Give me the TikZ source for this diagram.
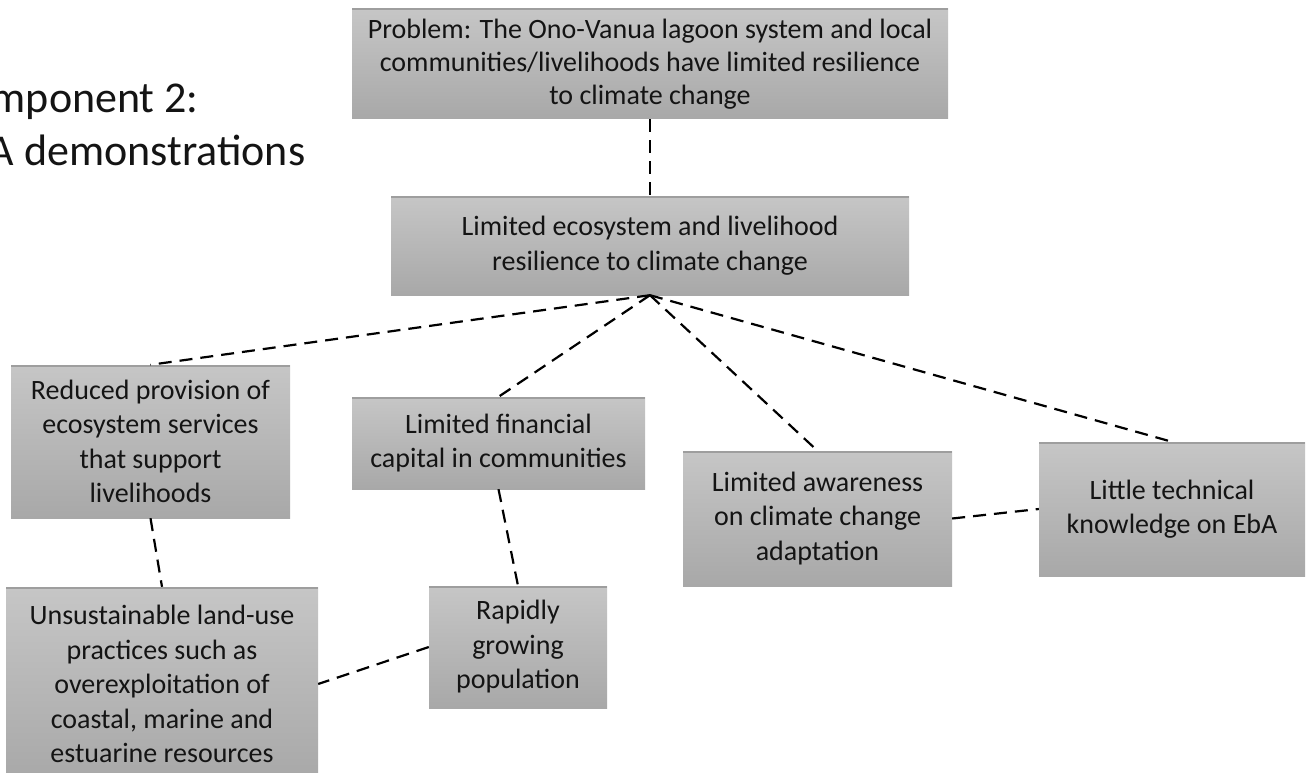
\documentclass[tikz,border=0pt]{standalone}
\usepackage{fontspec}
\setmainfont{Carlito}
\definecolor{boxtop}{RGB}{198,198,198}
\definecolor{boxbot}{RGB}{168,168,168}
\definecolor{boxedge}{RGB}{158,158,158}
\definecolor{inkc}{RGB}{20,20,20}
\tikzset{
  box/.style={rectangle, top color=boxtop, bottom color=boxbot, draw=none,
    inner sep=0pt, align=center, text=inkc,
    font=\fontsize{28}{34.5}\selectfont,
    path picture={\draw[boxedge, line width=3pt]
      (path picture bounding box.north west) -- (path picture bounding box.north east);}},
  link/.style={draw=black, line width=2.2pt, dash pattern=on 13pt off 8pt},
  heading/.style={anchor=base west, inner sep=0pt, text=inkc,
    font=\fontsize{44}{52}\selectfont}
}
\begin{document}
\begin{tikzpicture}[x=1pt, y=-1pt]
\useasboundingbox (0,0) rectangle (1306,773);
\clip (0,0) rectangle (1306,773);
\fill[white] (0,0) rectangle (1306,773);

% heading
\node[heading] (title1) at (-56,113) {Component 2:};
\node[heading] (title2) at (-56,165) {EbA demonstrations};

% problem statement and core effect
\node[box, minimum width=596pt, minimum height=110pt,
  font=\fontsize{28}{33}\selectfont] (problem) at (650,64)
  {Problem: The Ono-Vanua lagoon system and local\\
   communities/livelihoods have limited resilience\\
   to climate change};
\node[box, minimum width=518pt, minimum height=99pt] (core) at (650,245.5)
  {Limited ecosystem and livelihood\\resilience to climate change};

% causes
\node[box, minimum width=279pt, minimum height=153pt] (services) at (150.5,441.5)
  {Reduced provision of\\ecosystem services\\that support\\livelihoods};
\node[box, minimum width=293pt, minimum height=92pt] (finance) at (498.5,443)
  {Limited financial\\capital in communities};
\node[box, minimum width=269pt, minimum height=135pt] (awareness) at (817.5,518.5)
  {Limited awareness\\on climate change\\adaptation};
\node[box, minimum width=266pt, minimum height=134pt] (knowledge) at (1172,509)
  {Little technical\\knowledge on EbA};

% root causes
\node[box, minimum width=312pt, minimum height=194pt] (landuse) at (162,684)
  {Unsustainable land-use\\practices such as\\overexploitation of\\coastal, marine and\\estuarine resources};
\node[box, minimum width=178pt, minimum height=122pt] (population) at (518,647)
  {Rapidly\\growing\\population};

% connectors
\draw[link] (problem.south) -- (core.north);
\draw[link] (core.south) -- (services.north);
\draw[link] (core.south) -- (finance.north);
\draw[link] (core.south) -- (awareness.north);
\draw[link] (core.south) -- (knowledge.north);
\draw[link] (services.south) -- (landuse.north);
\draw[link] (finance.south) -- (population.north);
\draw[link] (population.west) -- (landuse.east);
\draw[link] (awareness.east) -- (knowledge.west);
\end{tikzpicture}
\end{document}
